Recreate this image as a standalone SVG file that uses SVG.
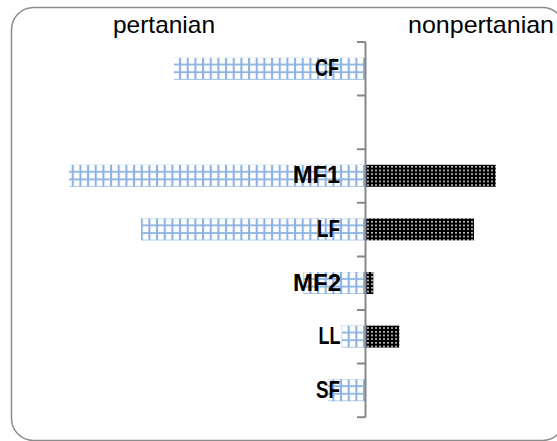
<svg xmlns="http://www.w3.org/2000/svg" width="557" height="441" viewBox="0 0 557 441">
  <style>
    .title { font-family: "Liberation Sans", Arial, sans-serif; font-size: 24px; fill: #000; }
    .lbl { font-family: "Liberation Sans", Arial, sans-serif; font-size: 23px; font-weight: bold; fill: #000; text-anchor: end; }
    .left { fill: url(#grid); }
    .right { fill: url(#dots); }
    .axis { stroke: #878787; stroke-width: 2; fill: none; }
  </style>
  <defs>
    <pattern id="grid" patternUnits="userSpaceOnUse" x="68.87" y="167.87" width="7.666" height="7.657">
      <rect x="0" y="0" width="7.666" height="7.657" fill="#ffffff"/>
      <rect x="0" y="3" width="7.666" height="1.8" fill="#8DB3E2"/>
      <rect x="2.83" y="0" width="2.1" height="7.657" fill="#8DB3E2"/>
    </pattern>
    <pattern id="dots" patternUnits="userSpaceOnUse" x="366" y="0" width="4" height="3.667">
      <rect x="0" y="0" width="4" height="3.667" fill="#000000"/>
      <rect x="1.2" y="1" width="1.6" height="1.5" fill="#ffffff"/>
    </pattern>
  </defs>
  <rect id="frame" x="11.5" y="7.5" width="553" height="433" rx="22" ry="22" fill="#ffffff" stroke="#8c8c8c" stroke-width="1.5"/>
  <text class="title" x="113" y="33" textLength="102" lengthAdjust="spacingAndGlyphs">pertanian</text>
  <text class="title" x="408" y="33" textLength="146" lengthAdjust="spacingAndGlyphs">nonpertanian</text>
  <g id="bars">
    <g id="row-CF">
      <rect class="left" x="174" y="57.8" width="191.5" height="22"/>
    </g>
    <g id="row-MF1">
      <rect class="left" x="69" y="164.8" width="296.5" height="22"/>
      <rect class="right" x="366" y="164.8" width="129.7" height="22"/>
    </g>
    <g id="row-LF">
      <rect class="left" x="141" y="218.4" width="224.5" height="22"/>
      <rect class="right" x="366" y="218.4" width="108" height="22"/>
    </g>
    <g id="row-MF2">
      <rect class="left" x="303.3" y="272" width="62.2" height="22"/>
      <rect class="right" x="366" y="272" width="7.3" height="22"/>
    </g>
    <g id="row-LL">
      <rect class="left" x="341.7" y="325.6" width="23.8" height="22"/>
      <rect class="right" x="366" y="325.6" width="33.3" height="22"/>
    </g>
    <g id="row-SF">
      <rect class="left" x="327.7" y="379.2" width="37.8" height="22"/>
    </g>
  </g>
  <g id="axis">
    <path class="axis" d="M365.5 42 V417.2 M357 42 H365.5 M357 95.6 H365.5 M357 149.2 H365.5 M357 202.8 H365.5 M357 256.4 H365.5 M357 310 H365.5 M357 363.6 H365.5 M357 417.2 H365.5"/>
  </g>
  <g id="labels">
    <text class="lbl" x="339" y="76.4" textLength="24" lengthAdjust="spacingAndGlyphs">CF</text>
    <text class="lbl" x="340" y="183.4" textLength="47" lengthAdjust="spacingAndGlyphs">MF1</text>
    <text class="lbl" x="340" y="237" textLength="23" lengthAdjust="spacingAndGlyphs">LF</text>
    <text class="lbl" x="341" y="290.6" textLength="48" lengthAdjust="spacingAndGlyphs">MF2</text>
    <text class="lbl" x="340.5" y="344.2" textLength="22" lengthAdjust="spacingAndGlyphs">LL</text>
    <text class="lbl" x="340" y="397.8" textLength="24" lengthAdjust="spacingAndGlyphs">SF</text>
  </g>
</svg>
